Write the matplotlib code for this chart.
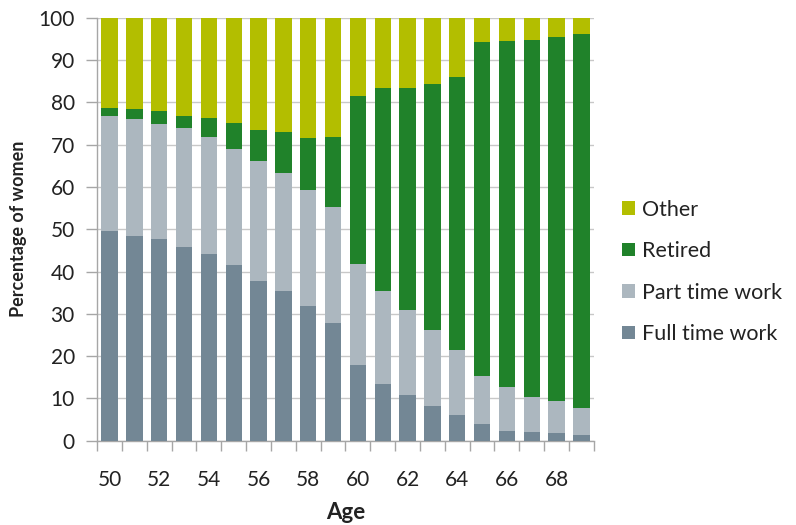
import matplotlib
matplotlib.use("Agg")
import matplotlib.pyplot as plt
import numpy as np

plt.rcParams['font.family'] = ['Lato', 'DejaVu Sans']

ages = list(range(50, 70))
full_time = [49.6, 48.5, 47.6, 45.7, 44.1, 41.6, 37.7, 35.5, 31.8, 27.9,
             17.9, 13.3, 10.8, 8.1, 6.1, 3.9, 2.4, 2.0, 1.8, 1.3]
part_time = [27.3, 27.6, 27.3, 28.2, 27.8, 27.4, 28.4, 27.9, 27.4, 27.4,
             23.9, 22.2, 20.2, 18.0, 15.3, 11.5, 10.2, 8.4, 7.6, 6.4]
retired = [1.7, 2.3, 3.0, 3.0, 4.3, 6.1, 7.4, 9.5, 12.4, 16.6,
           39.7, 48.0, 52.5, 58.2, 64.6, 78.8, 82.0, 84.4, 86.0, 88.4]
other = [100 - f - p - r for f, p, r in zip(full_time, part_time, retired)]

series = [("Full time work", full_time, "#738795"),
          ("Part time work", part_time, "#acb7bf"),
          ("Retired", retired, "#20822a"),
          ("Other", other, "#b3be00")]

fig = plt.figure(figsize=(7.96, 5.25), dpi=100)
ax = fig.add_axes([0.122, 0.1606, 0.624, 0.8054])

x = np.arange(len(ages))
bottom = np.zeros(len(ages))
handles = []
for name, vals, color in series:
    h = ax.bar(x, vals, width=0.66, bottom=bottom, color=color, label=name, zorder=3)
    handles.append(h)
    bottom += np.array(vals)

ax.set_xlim(-0.5, len(ages) - 0.5)
ax.set_ylim(0, 100)
ax.set_yticks(np.arange(0, 101, 10))
ax.yaxis.grid(True, color="#c8c8c8", linewidth=1.0, zorder=0)
ax.set_axisbelow(True)

ax.set_xticks(x[::2])
ax.set_xticklabels([str(a) for a in ages[::2]])
ax.set_xticks(np.arange(-0.5, len(ages), 1.0), minor=True)
ax.tick_params(axis="x", which="major", length=0, pad=21, labelsize=15, colors="#222222")
ax.tick_params(axis="x", which="minor", length=7, width=1, color="#a6a6a6")
ax.tick_params(axis="y", length=8, width=1, color="#a6a6a6", pad=8, labelsize=15,
               labelcolor="#222222")

for side in ("top", "right"):
    ax.spines[side].set_visible(False)
for side in ("left", "bottom"):
    ax.spines[side].set_color("#a6a6a6")
    ax.spines[side].set_linewidth(1)

ax.set_xlabel("Age", fontsize=16, fontweight="bold", labelpad=9, color="#222222")
ax.set_ylabel("Percentage of women", fontsize=13, fontweight="bold", labelpad=8,
              color="#222222")

leg = fig.legend(handles[::-1], [s[0] for s in series][::-1],
                 loc="center left", bbox_to_anchor=(0.781, 0.482),
                 frameon=False, fontsize=15.5, handlelength=0.6, handleheight=0.6,
                 handletextpad=0.35, labelspacing=1.0, borderpad=0, borderaxespad=0)
for t in leg.get_texts():
    t.set_color("#222222")

fig.savefig("out.png", dpi=100)
